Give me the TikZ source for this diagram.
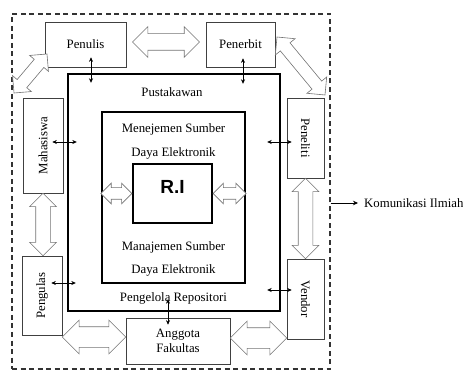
\documentclass[tikz,border=0pt]{standalone}
\usepackage{fontspec}
\usepackage{graphicx}
\setmainfont{Liberation Serif}
\newfontfamily\risans{Liberation Sans}
\usetikzlibrary{calc,shapes.arrows,arrows.meta}

% hollow double arrow laid from one point to another
\newcommand{\hollowarrow}[3][]{%
  \path let \p1=($(#3)-(#2)$), \n1={atan2(\y1,\x1)}, \n2={veclen(\x1,\y1)} in
    node[hollow,rotate=\n1,minimum height=\n2,#1] at ($(#2)!0.5!(#3)$) {};}

\begin{document}
\begin{tikzpicture}[x=1pt,y=-1pt,font=\fontsize{12.8}{15}\selectfont]
    \tikzstyle{entity}=[draw=black!75,line width=0.6pt,inner sep=0pt,align=center]
    \tikzstyle{frame}=[draw=black,line width=2.4pt,inner sep=0pt]
    \tikzstyle{hollow}=[double arrow,draw=black!55,fill=white,line width=0.6pt,inner xsep=0pt,inner ysep=8pt,minimum width=0pt,double arrow head extend=7pt,double arrow tip angle=90]
    \tikzstyle{slim}=[inner ysep=5.5pt,double arrow head extend=4.5pt]
    \tikzstyle{link}=[{Stealth[length=4.5pt,width=4pt]}-{Stealth[length=4.5pt,width=4pt]},line width=0.6pt]

    \useasboundingbox (0,0) rectangle (463,371);

    % Outer dashed border
    \node[draw=black!80,dash pattern=on 5pt off 3.5pt,line width=1.2pt,minimum width=318pt,minimum height=355pt,inner sep=0pt] (outer) at (171,191.5) {};

    % Stakeholders around the repository
    \node[entity,minimum width=81pt,minimum height=45pt] (penulis) at (85.5,44.5) {Penulis};
    \node[entity,minimum width=69pt,minimum height=45pt] (penerbit) at (240.5,44.5) {Penerbit};
    \node[entity,minimum width=40pt,minimum height=95pt] (mahasiswa) at (43,145.5) {\rotatebox{90}{Mahasiswa}};
    \node[entity,minimum width=37pt,minimum height=80pt] (peneliti) at (305.5,138) {\rotatebox{-90}{Peneliti}};
    \node[entity,minimum width=40pt,minimum height=79pt] (pengulas) at (42,295.5) {\rotatebox{90}{Pengulas}};
    \node[entity,minimum width=37pt,minimum height=80pt] (vendor) at (305.5,299) {\rotatebox{-90}{Vendor}};
    \node[entity,minimum width=104pt,minimum height=46pt] (anggota) at (178,341) {Anggota\\Fakultas};

    % Nested frames
    \node[frame,minimum width=212pt,minimum height=237pt] (pust) at (174,192.5) {};
    \node[frame,line width=2.2pt,minimum width=143pt,minimum height=171pt] (mse) at (173.5,197.5) {};
    \node[frame,line width=2.2pt,minimum width=79pt,minimum height=59pt,text height=14pt,text depth=14pt,font=\risans\bfseries\fontsize{19}{22}\selectfont] (ri) at (172.5,193.5) {R.I};

    % Frame captions
    \node (pustakawan) at (172,92) {Pustakawan};
    \node (mse1) at (173.5,129) {Menejemen Sumber};
    \node (mse2) at (173.5,153) {Daya Elektronik};
    \node (mse3) at (173.5,247) {Manajemen Sumber};
    \node (mse4) at (173.5,270) {Daya Elektronik};
    \node (repo) at (173.5,298) {Pengelola Repositori};

    % Hollow arrows between the stakeholders
    \coordinate (dl1) at (14,93);
    \coordinate (dl2) at (47,54);
    \coordinate (dr1) at (277,37);
    \coordinate (dr2) at (325,95);
    \hollowarrow[minimum height=67pt,yshift=2.5pt]{penulis.east}{penerbit.west}
    \hollowarrow[inner ysep=6pt,double arrow head extend=6pt]{dl1}{dl2}
    \hollowarrow[inner ysep=6pt,double arrow head extend=6.5pt]{dr1}{dr2}
    \hollowarrow[inner ysep=7pt,double arrow head extend=6pt]{mahasiswa.south}{mahasiswa.south |- pengulas.north}
    \hollowarrow[inner ysep=7pt,double arrow head extend=6pt]{peneliti.south}{vendor.north}
    \hollowarrow[inner ysep=10pt,double arrow head extend=6.5pt,yshift=4pt]{anggota.west -| pengulas.east}{anggota.west}
    \hollowarrow[inner ysep=10pt,double arrow head extend=6.5pt,yshift=3pt]{anggota.east}{anggota.east -| vendor.west}
    \hollowarrow[slim]{mse.west |- ri.west}{ri.west}
    \hollowarrow[slim]{ri.east}{mse.east |- ri.east}

    % Links into the librarian frame
    \draw[link] ($(penulis.south)+(5.5,-10)$) -- ($(penulis.south |- pust.north)+(5.5,10)$);
    \draw[link] ($(penerbit.south)+(2.5,-9)$) -- ($(penerbit.south |- pust.north)+(2.5,11)$);
    \draw[link] ($(mahasiswa.east)+(-11,-3.5)$) -- ($(mahasiswa.east -| pust.west)+(10,-3.5)$);
    \draw[link] ($(peneliti.west)+(5,4)$) -- ($(peneliti.west -| pust.east)+(-14,4)$);
    \draw[link] ($(pengulas.east)+(-11,-12.5)$) -- ($(pengulas.east -| pust.west)+(9,-12.5)$);
    \draw[link] ($(vendor.west)+(5,-9)$) -- ($(vendor.west -| pust.east)+(-14,-9)$);
    \draw[link] ($(anggota.north)+(-10,7)$) -- ($(anggota.north |- pust.south)+(-10,-13)$);

    % Outgoing label
    \node[anchor=west,inner sep=0pt] (komunikasi) at (364,203) {Komunikasi Ilmiah};
    \draw[-{Stealth[length=5pt,width=4.5pt]},line width=0.6pt,shorten >=6pt] (outer.east |- komunikasi) -- (komunikasi);
\end{tikzpicture}
\end{document}
